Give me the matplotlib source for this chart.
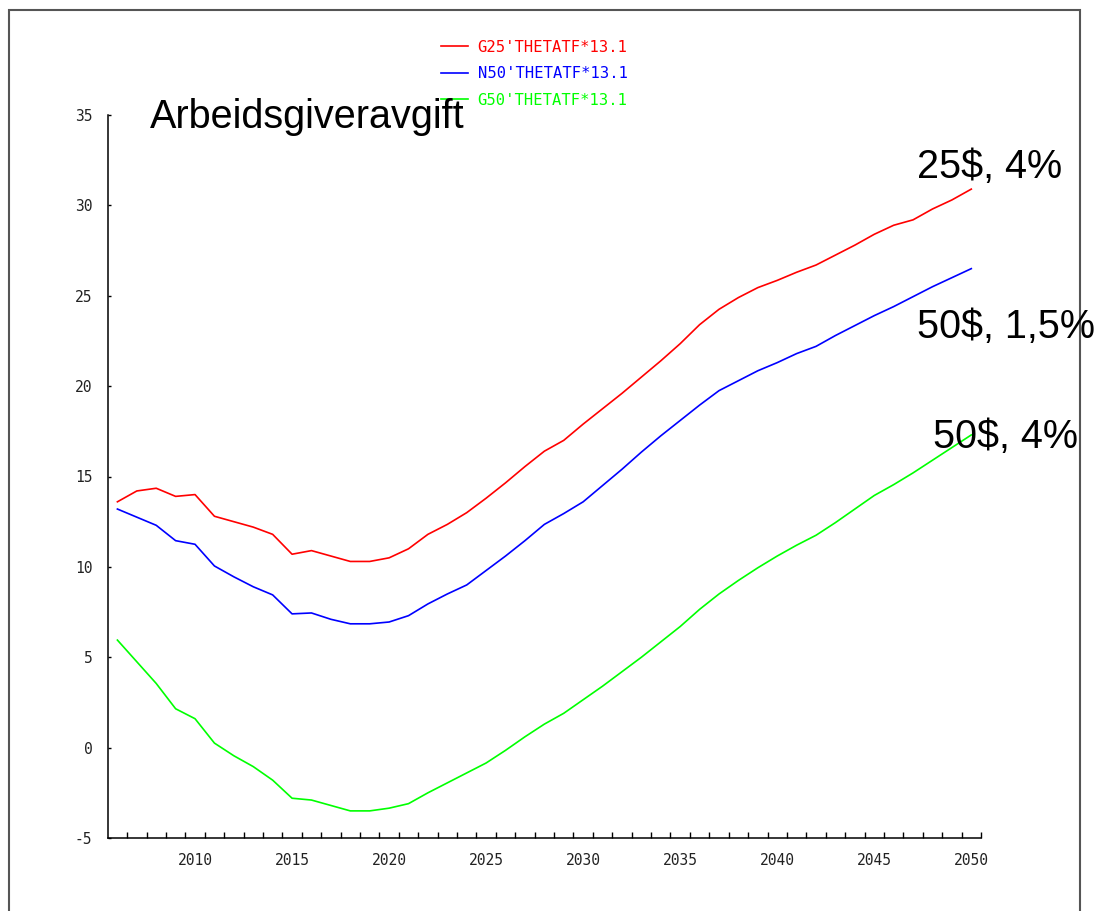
import numpy as np
import matplotlib.pyplot as plt
from matplotlib.patches import Rectangle
from matplotlib.ticker import FixedLocator

plt.rcParams["axes.unicode_minus"] = False

# yearly series, 2006-2050
years = np.arange(2006, 2051)

g25 = [13.6, 14.2, 14.35, 13.9, 14.0, 12.8, 12.5, 12.2, 11.8, 10.7,
       10.9, 10.6, 10.3, 10.3, 10.5, 11.0, 11.8, 12.35, 13.0, 13.8,
       14.65, 15.55, 16.4, 17.0, 17.9, 18.75, 19.6, 20.5, 21.4, 22.35,
       23.4, 24.25, 24.9, 25.45, 25.85, 26.3, 26.7, 27.25, 27.8, 28.4,
       28.9, 29.2, 29.8, 30.3, 30.9]
n50 = [13.2, 12.75, 12.3, 11.45, 11.25, 10.05, 9.45, 8.9, 8.45, 7.4,
       7.45, 7.1, 6.85, 6.85, 6.95, 7.3, 7.95, 8.5, 9.0, 9.8,
       10.6, 11.45, 12.35, 12.95, 13.6, 14.5, 15.4, 16.35, 17.25, 18.1,
       18.95, 19.75, 20.3, 20.85, 21.3, 21.8, 22.2, 22.8, 23.35, 23.9,
       24.4, 24.95, 25.5, 26.0, 26.5]
g50 = [5.95, 4.75, 3.55, 2.15, 1.6, 0.25, -0.45, -1.05, -1.8, -2.8,
       -2.9, -3.2, -3.5, -3.5, -3.35, -3.1, -2.5, -1.95, -1.4, -0.85,
       -0.15, 0.6, 1.3, 1.9, 2.65, 3.4, 4.2, 5.0, 5.85, 6.7,
       7.65, 8.5, 9.25, 9.95, 10.6, 11.2, 11.75, 12.45, 13.2, 13.95,
       14.55, 15.2, 15.9, 16.6, 17.3]

series = [
    (g25, "#ff0000", "G25'THETATF*13.1"),
    (n50, "#0000ff", "N50'THETATF*13.1"),
    (g50, "#00ff00", "G50'THETATF*13.1"),
]

W, H = 1096, 911
fig = plt.figure(figsize=(W / 100, H / 100), dpi=100)
ax = fig.add_axes([107.7 / W, 1 - 838 / H, (981 - 107.7) / W, (838 - 115) / H])

for vals, col, lab in series:
    ax.plot(years, vals, color=col, lw=1.2, label=lab)

ax.set_xlim(2005.5, 2050.5)
ax.set_ylim(-5, 35)
for s in ("top", "right"):
    ax.spines[s].set_visible(False)
for s in ("left", "bottom"):
    ax.spines[s].set_linewidth(1.1)

ax.set_xticks(np.arange(2010, 2051, 5))
ax.xaxis.set_minor_locator(FixedLocator(np.arange(2006.5, 2051, 1)))
ax.tick_params(axis="x", which="major", length=0, pad=11)
ax.tick_params(axis="x", which="minor", direction="in", length=4, width=1)
ax.set_yticks(np.arange(-5, 36, 5))
ax.tick_params(axis="y", direction="in", length=2, width=1, pad=11)
for t in ax.get_xticklabels() + ax.get_yticklabels():
    t.set_fontfamily("DejaVu Sans Mono")
    t.set_fontsize(10.5)
    t.set_color("#222222")

leg = ax.legend(loc="upper left", bbox_to_anchor=(441 / W, 1 - 39.5 / H),
                bbox_transform=fig.transFigure, frameon=False,
                prop={"family": "DejaVu Sans Mono", "size": 11.2},
                handlelength=1.75, handletextpad=0.6, labelspacing=0.75,
                borderpad=0, borderaxespad=0, labelcolor="linecolor")

big = dict(family="Liberation Sans", fontsize=28.5, va="baseline", ha="left",
           parse_math=False)
fig.text(150 / W, 1 - 128.3 / H, "Arbeidsgiveravgift", **big)
fig.text(916.7 / W, 1 - 178.3 / H, "25$, 4%", **big)
fig.text(916.7 / W, 1 - 338.3 / H, "50$, 1,5%", **big)
fig.text(933.3 / W, 1 - 448.3 / H, "50$, 4%", **big)

# outer frame
fig.patches.append(Rectangle((9 / W, -0.05), (1080 - 9) / W, 1.05 - 10 / H,
                             transform=fig.transFigure, fill=False,
                             edgecolor="#555555", lw=1.5, zorder=0))

fig.savefig("out.png", dpi=100)
